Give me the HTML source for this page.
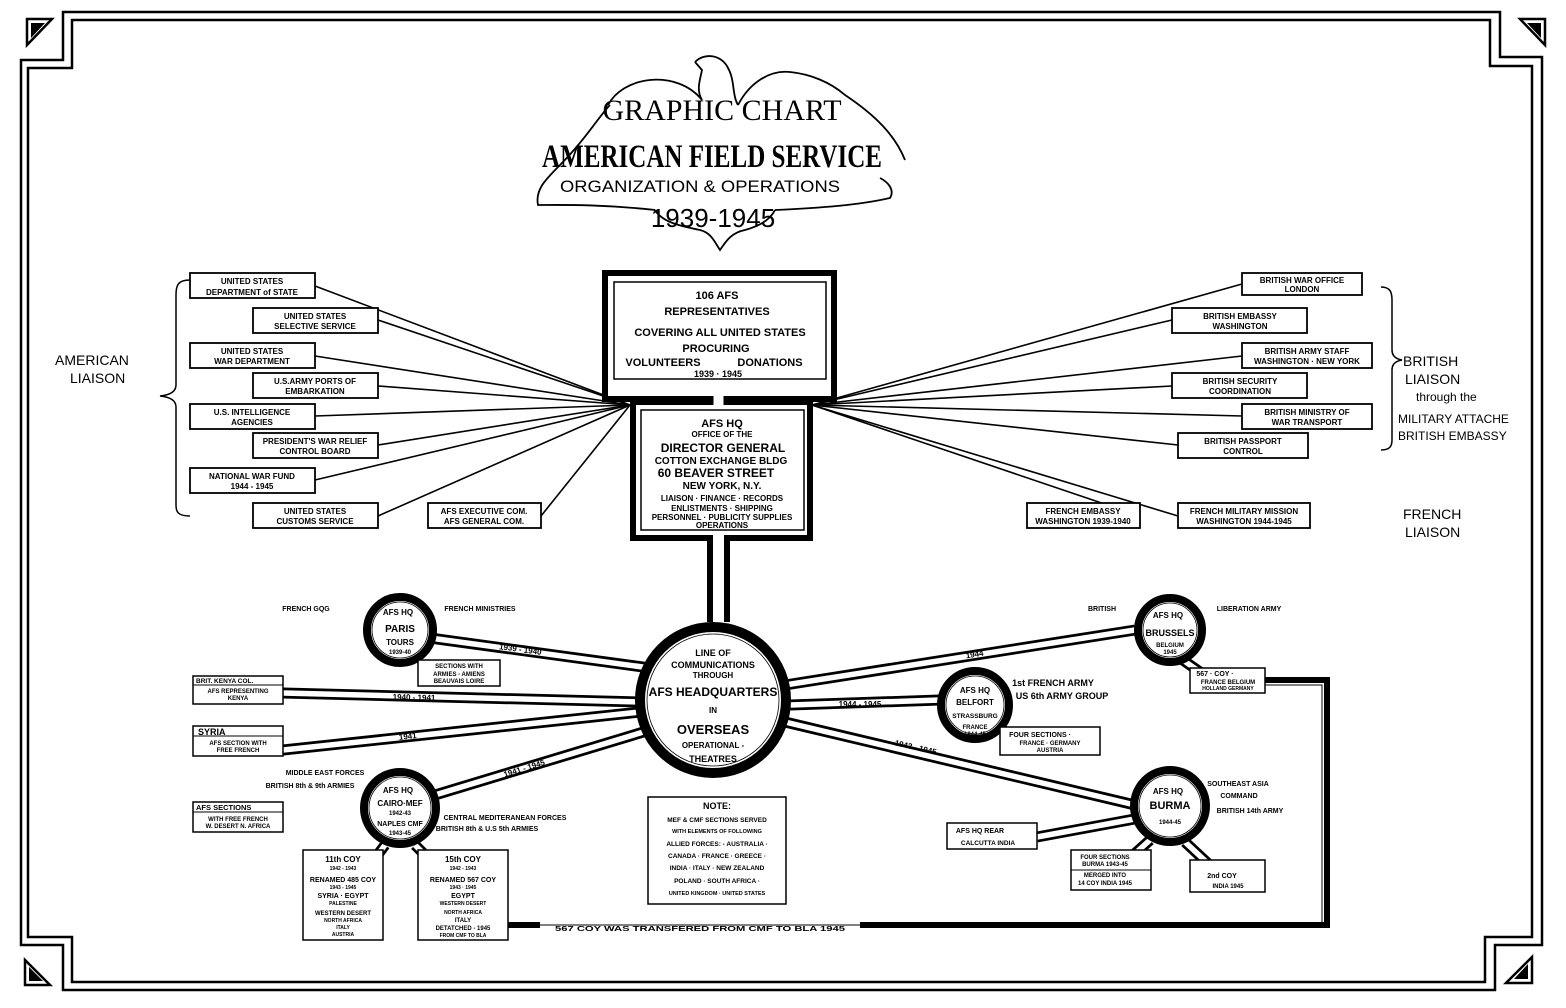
<!DOCTYPE html>
<html><head><meta charset="utf-8"><style>
html,body{margin:0;padding:0;background:#fff}
svg{display:block}
text{font-family:"Liberation Sans",sans-serif;fill:#000;font-weight:bold;text-anchor:middle}
.s{font-size:8px}
.m{font-size:11px}
.l{font-size:14px;font-weight:normal}
.st{text-anchor:start}
</style></head><body>
<svg width="1566" height="1008" viewBox="0 0 1566 1008" xmlns="http://www.w3.org/2000/svg">
<rect width="1566" height="1008" fill="#fff"/>
<g fill="none" stroke="#000" stroke-width="2.5">
<path d="M63,12 H1500 V57 H1542 V945 H1495 V990 H63 V945 H21 V60 H63 Z"/>
<path d="M72,20 H1490 V66 H1532 V937 H1485 V982 H72 V937 H28 V68 H72 Z"/>
</g>
<path d="M27,19 H52 L27,45 Z" fill="#fff" stroke="#000" stroke-width="2.5"/><path d="M31,23 H45 L31,38 Z"/>
<path d="M1520,19 H1545 V45 Z" fill="#fff" stroke="#000" stroke-width="2.5"/><path d="M1527,23 H1541 V38 Z"/>
<path d="M25,960 L50,985 H25 Z" fill="#fff" stroke="#000" stroke-width="2.5"/><path d="M29,967 L43,981 H29 Z"/>
<path d="M1532,957 V983 H1506 Z" fill="#fff" stroke="#000" stroke-width="2.5"/><path d="M1528,964 V979 H1514 Z"/>

<!-- Title eagle & banner -->
<g fill="none" stroke="#000" stroke-width="1.8">
<path d="M695,62 C705,52 722,55 728,68 C735,80 732,95 738,105 M695,62 L702,70 C700,80 696,90 702,100"/>
<path d="M702,100 C690,85 670,78 650,80 C630,82 615,92 608,105 M610,105 C600,115 585,140 560,165"/>
<path d="M738,105 C750,82 770,70 790,72 C810,74 830,82 845,95 C875,115 895,135 905,160"/>
<path d="M560,165 C545,180 535,190 538,205 C560,205 600,204 655,210"/>
<path d="M775,210 C820,208 860,205 890,198 C895,190 888,182 880,178"/>
<path d="M655,210 C662,222 680,226 700,230 C712,233 715,243 720,250 C725,243 730,233 745,230 C760,226 770,220 775,210"/>
</g>
<text x="722" y="120" style="font-size:30px;font-weight:normal;font-family:'Liberation Serif',serif">GRAPHIC CHART</text>
<text x="712" y="167" style="font-size:33px;font-weight:bold;font-family:'Liberation Serif',serif" textLength="340" lengthAdjust="spacingAndGlyphs">AMERICAN FIELD SERVICE</text>
<text x="700" y="192" style="font-size:17px;font-weight:normal" textLength="280" lengthAdjust="spacingAndGlyphs">ORGANIZATION &amp; OPERATIONS</text>
<text x="713" y="227" style="font-size:26px;font-weight:normal">1939-1945</text>

<g stroke="#000" stroke-width="1.6">
<line x1="315" y1="286" x2="630" y2="405"/>
<line x1="378" y1="320" x2="630" y2="405"/>
<line x1="315" y1="356" x2="630" y2="405"/>
<line x1="378" y1="386" x2="630" y2="405"/>
<line x1="315" y1="416" x2="630" y2="405"/>
<line x1="378" y1="445" x2="630" y2="405"/>
<line x1="315" y1="480" x2="630" y2="405"/>
<line x1="378" y1="516" x2="630" y2="405"/>
<line x1="541" y1="516" x2="630" y2="405"/>
<line x1="1242" y1="284" x2="812" y2="405"/>
<line x1="1172" y1="320" x2="812" y2="405"/>
<line x1="1242" y1="356" x2="812" y2="405"/>
<line x1="1172" y1="386" x2="812" y2="405"/>
<line x1="1242" y1="416" x2="812" y2="405"/>
<line x1="1178" y1="445" x2="812" y2="405"/>
<line x1="1178" y1="516" x2="812" y2="405"/>
<line x1="1140" y1="516" x2="812" y2="405"/>
</g>

<g fill="#fff" stroke="#000" stroke-width="1.8">
<rect x="190" y="273" width="125" height="25"/><rect x="253" y="308" width="125" height="25"/>
<rect x="190" y="343" width="125" height="25"/><rect x="253" y="373" width="125" height="25"/>
<rect x="190" y="404" width="125" height="25"/><rect x="253" y="433" width="125" height="25"/>
<rect x="190" y="468" width="125" height="25"/><rect x="253" y="503" width="125" height="25"/>
<rect x="428" y="503" width="113" height="25"/>
<rect x="1242" y="273" width="120" height="22"/><rect x="1172" y="308" width="135" height="25"/>
<rect x="1242" y="343" width="130" height="25"/><rect x="1172" y="373" width="135" height="25"/>
<rect x="1242" y="404" width="130" height="25"/><rect x="1178" y="433" width="130" height="25"/>
<rect x="1178" y="503" width="132" height="25"/><rect x="1027" y="503" width="113" height="25"/>
</g>
<g class="s">
<text x="252" y="284" class="s">UNITED STATES</text><text x="252" y="295" class="s">DEPARTMENT of STATE</text>
<text x="315" y="319" class="s">UNITED STATES</text><text x="315" y="329" class="s">SELECTIVE SERVICE</text>
<text x="252" y="354" class="s">UNITED STATES</text><text x="252" y="364" class="s">WAR DEPARTMENT</text>
<text x="315" y="384" class="s">U.S.ARMY PORTS OF</text><text x="315" y="394" class="s">EMBARKATION</text>
<text x="252" y="415" class="s">U.S. INTELLIGENCE</text><text x="252" y="425" class="s">AGENCIES</text>
<text x="315" y="444" class="s">PRESIDENT'S WAR RELIEF</text><text x="315" y="454" class="s">CONTROL BOARD</text>
<text x="252" y="479" class="s">NATIONAL WAR FUND</text><text x="252" y="489" class="s">1944 - 1945</text>
<text x="315" y="514" class="s">UNITED STATES</text><text x="315" y="524" class="s">CUSTOMS SERVICE</text>
<text x="484" y="514" class="s">AFS EXECUTIVE COM.</text><text x="484" y="524" class="s">AFS GENERAL COM.</text>
<text x="1302" y="283" class="s">BRITISH WAR OFFICE</text><text x="1302" y="292" class="s">LONDON</text>
<text x="1240" y="319" class="s">BRITISH EMBASSY</text><text x="1240" y="329" class="s">WASHINGTON</text>
<text x="1307" y="354" class="s">BRITISH ARMY STAFF</text><text x="1307" y="364" class="s">WASHINGTON · NEW YORK</text>
<text x="1240" y="384" class="s">BRITISH SECURITY</text><text x="1240" y="394" class="s">COORDINATION</text>
<text x="1307" y="415" class="s">BRITISH MINISTRY OF</text><text x="1307" y="425" class="s">WAR TRANSPORT</text>
<text x="1243" y="444" class="s">BRITISH PASSPORT</text><text x="1243" y="454" class="s">CONTROL</text>
<text x="1244" y="514" class="s">FRENCH MILITARY MISSION</text><text x="1244" y="524" class="s">WASHINGTON 1944-1945</text>
<text x="1083" y="514" class="s">FRENCH EMBASSY</text><text x="1083" y="524" class="s">WASHINGTON 1939-1940</text>
</g>

<path d="M190,280 C178,280 176,285 176,295 V385 C176,392 170,395 160,396 C170,397 176,400 176,407 V505 C176,512 178,516 190,516" fill="none" stroke="#000" stroke-width="1.5"/>
<path d="M1381,287 C1390,287 1392,292 1392,300 V350 C1392,356 1396,359 1402,360 C1396,361 1392,364 1392,370 V440 C1392,446 1390,450 1381,450" fill="none" stroke="#000" stroke-width="1.5"/>
<text x="55" y="365" class="l st">AMERICAN</text><text x="70" y="383" class="l st">LIAISON</text>
<text x="1403" y="366" class="l st">BRITISH</text><text x="1405" y="384" class="l st">LIAISON</text>
<text x="1416" y="401" class="l st" style="font-size:12px">through the</text>
<text x="1398" y="423" class="l st" style="font-size:12px">MILITARY ATTACHE</text>
<text x="1398" y="440" class="l st" style="font-size:12px">BRITISH EMBASSY</text>
<text x="1403" y="519" class="l st">FRENCH</text><text x="1405" y="537" class="l st">LIAISON</text>

<!-- central boxes -->
<g fill="none" stroke="#000" stroke-width="6">
<rect x="605" y="273" width="229" height="126"/>
<rect x="633" y="402" width="177" height="136"/>
<line x1="710" y1="538" x2="710" y2="622"/>
<line x1="727" y1="538" x2="727" y2="622"/>
</g>
<rect x="713" y="395" width="11" height="12" fill="#fff"/>
<rect x="713" y="533" width="11" height="10" fill="#fff"/>
<g stroke="#000" stroke-width="5"><line x1="711" y1="396" x2="711" y2="405"/><line x1="726" y1="396" x2="726" y2="405"/></g>
<rect x="614" y="282" width="212" height="97" fill="#fff" stroke="#000" stroke-width="1.5"/>
<rect x="641" y="410" width="163" height="120" fill="#fff" stroke="#000" stroke-width="1.5"/>
<g class="m">
<text x="717" y="299">106  AFS</text><text x="717" y="315">REPRESENTATIVES</text>
<text x="720" y="336">COVERING ALL UNITED STATES</text><text x="716" y="352">PROCURING</text>
<text x="663" y="366">VOLUNTEERS</text><text x="770" y="366">DONATIONS</text>
<text x="718" y="377" style="font-size:9px">1939 · 1945</text>
<text x="722" y="427">AFS HQ</text><text x="722" y="437" class="s">OFFICE OF THE</text>
<text x="723" y="452" style="font-size:12px">DIRECTOR GENERAL</text>
<text x="721" y="464" style="font-size:10px">COTTON EXCHANGE BLDG</text>
<text x="716" y="477" style="font-size:12px">60 BEAVER STREET</text>
<text x="722" y="489" style="font-size:10px">NEW YORK, N.Y.</text>
<text x="722" y="501" class="s">LIAISON · FINANCE · RECORDS</text>
<text x="722" y="511" class="s">ENLISTMENTS · SHIPPING</text>
<text x="722" y="520" class="s">PERSONNEL · PUBLICITY SUPPLIES</text>
<text x="722" y="528" class="s">OPERATIONS</text>
</g>

<g stroke="#000" stroke-width="11" stroke-linecap="butt">
<line x1="430" y1="638" x2="650" y2="668"/>
<line x1="283" y1="693" x2="640" y2="702"/>
<line x1="283" y1="750" x2="640" y2="712"/>
<line x1="435" y1="795" x2="650" y2="730"/>
<line x1="785" y1="685" x2="1135" y2="630"/>
<line x1="790" y1="705" x2="940" y2="700"/>
<line x1="785" y1="722" x2="1135" y2="805"/>
<line x1="1037" y1="837" x2="1140" y2="818"/>
<line x1="385" y1="845" x2="370" y2="865"/>
<line x1="415" y1="845" x2="435" y2="865"/>
<line x1="1150" y1="840" x2="1130" y2="858"/>
<line x1="1185" y1="842" x2="1215" y2="870"/>
<line x1="1180" y1="658" x2="1200" y2="672"/>
</g>
<g stroke="#fff" stroke-width="5.5">
<line x1="430" y1="638" x2="650" y2="668"/>
<line x1="283" y1="693" x2="640" y2="702"/>
<line x1="283" y1="750" x2="640" y2="712"/>
<line x1="435" y1="795" x2="650" y2="730"/>
<line x1="785" y1="685" x2="1135" y2="630"/>
<line x1="790" y1="705" x2="940" y2="700"/>
<line x1="785" y1="722" x2="1135" y2="805"/>
<line x1="1037" y1="837" x2="1140" y2="818"/>
<line x1="385" y1="845" x2="370" y2="865"/>
<line x1="415" y1="845" x2="435" y2="865"/>
<line x1="1150" y1="840" x2="1130" y2="858"/>
<line x1="1185" y1="842" x2="1215" y2="870"/>
<line x1="1180" y1="658" x2="1200" y2="672"/>
</g>
<g class="s">
<text x="520" y="652" transform="rotate(7.8 520 652)">1939 - 1940</text>
<text x="414" y="700" transform="rotate(1.4 414 700)">1940 - 1941</text>
<text x="408" y="739" transform="rotate(-6 408 739)">1941</text>
<text x="525" y="771" transform="rotate(-17 525 771)">1941 - 1945</text>
<text x="975" y="657" transform="rotate(-9 975 657)">1944</text>
<text x="860" y="707">1944 - 1945</text>
<text x="915" y="750" transform="rotate(13 915 750)">1943 - 1945</text>
</g>

<g fill="#fff" stroke="#000">
<circle cx="713" cy="700" r="73" stroke-width="10"/>
<circle cx="400" cy="630" r="33" stroke-width="8"/>
<circle cx="400" cy="808" r="36" stroke-width="8"/>
<circle cx="1170" cy="630" r="32" stroke-width="8"/>
<circle cx="975" cy="705" r="34" stroke-width="8"/>
<circle cx="1170" cy="806" r="36" stroke-width="8"/>
</g>
<g fill="none" stroke="#000" stroke-width="0.8">
<circle cx="713" cy="700" r="66"/><circle cx="400" cy="630" r="28"/><circle cx="400" cy="808" r="31"/>
<circle cx="1170" cy="630" r="27"/><circle cx="975" cy="705" r="29"/><circle cx="1170" cy="806" r="31"/>
</g>
<g>
<text x="713" y="656" class="s" style="font-size:9px">LINE OF</text>
<text x="713" y="668" class="s" style="font-size:9px">COMMUNICATIONS</text>
<text x="713" y="678" class="s">THROUGH</text>
<text x="713" y="696" style="font-size:12px">AFS HEADQUARTERS</text>
<text x="713" y="713" class="s">IN</text>
<text x="713" y="734" style="font-size:13px">OVERSEAS</text>
<text x="713" y="748" class="s">OPERATIONAL -</text>
<text x="713" y="762" class="s" style="font-size:9px">THEATRES</text>
<text x="398" y="615" class="s">AFS HQ</text><text x="400" y="632" style="font-size:10px">PARIS</text>
<text x="400" y="645" class="s">TOURS</text><text x="400" y="654" style="font-size:6px">1939-40</text>
<text x="398" y="793" class="s">AFS HQ</text><text x="400" y="806" class="s">CAIRO·MEF</text>
<text x="400" y="815" style="font-size:6px">1942-43</text><text x="400" y="826" style="font-size:7px">NAPLES CMF</text>
<text x="400" y="835" style="font-size:6px">1943-45</text>
<text x="1168" y="618" class="s">AFS HQ</text><text x="1170" y="636" style="font-size:9px">BRUSSELS</text>
<text x="1170" y="647" style="font-size:6px">BELGIUM</text><text x="1170" y="654" style="font-size:6px">1945</text>
<text x="975" y="693" class="s">AFS HQ</text><text x="975" y="705" class="s">BELFORT</text>
<text x="975" y="718" style="font-size:6.5px">STRASSBURG</text>
<text x="975" y="729" style="font-size:6px">FRANCE</text><text x="975" y="736" style="font-size:6px">1944-45</text>
<text x="1168" y="794" class="s">AFS HQ</text><text x="1170" y="809" style="font-size:11px">BURMA</text>
<text x="1170" y="824" style="font-size:6px">1944-45</text>
</g>

<g fill="#fff" stroke="#000" stroke-width="1.5">
<rect x="418" y="660" width="82" height="26"/>
<rect x="193" y="676" width="90" height="28"/>
<rect x="193" y="726" width="90" height="30"/>
<rect x="193" y="802" width="90" height="30"/>
<rect x="303" y="850" width="80" height="90"/>
<rect x="418" y="850" width="90" height="90"/>
<rect x="648" y="797" width="138" height="107"/>
<rect x="1190" y="668" width="75" height="25"/>
<rect x="1000" y="727" width="100" height="28"/>
<rect x="947" y="823" width="90" height="26"/>
<rect x="1071" y="850" width="80" height="40"/>
<rect x="1190" y="860" width="75" height="32"/>
</g>
<line x1="193" y1="685" x2="283" y2="685" stroke="#000" stroke-width="1"/>
<line x1="193" y1="736" x2="283" y2="736" stroke="#000" stroke-width="1"/>
<line x1="193" y1="812" x2="283" y2="812" stroke="#000" stroke-width="1"/>
<g style="font-size:6px">
<text x="459" y="668" style="font-size:6px">SECTIONS WITH</text><text x="459" y="676" style="font-size:6px">ARMIES - AMIENS</text><text x="459" y="683" style="font-size:6px">BEAUVAIS  LOIRE</text>
<text x="196" y="683" class="st" style="font-size:6.5px">BRIT. KENYA COL.</text><text x="238" y="693" style="font-size:6px">AFS REPRESENTING</text><text x="238" y="700" style="font-size:6px">KENYA</text>
<text x="198" y="735" class="st" style="font-size:9px">SYRIA</text><text x="238" y="745" style="font-size:6px">AFS SECTION WITH</text><text x="238" y="752" style="font-size:6px">FREE FRENCH</text>
<text x="196" y="810" class="st" style="font-size:7.5px">AFS SECTIONS</text><text x="238" y="821" style="font-size:6px">WITH FREE FRENCH</text><text x="238" y="828" style="font-size:6px">W. DESERT  N. AFRICA</text>
<text x="343" y="862" style="font-size:8px">11th COY</text><text x="343" y="870" style="font-size:5px">1942 - 1943</text>
<text x="343" y="882" style="font-size:7px">RENAMED 485 COY</text><text x="343" y="889" style="font-size:5px">1943 - 1945</text>
<text x="343" y="898" style="font-size:7px">SYRIA · EGYPT</text><text x="343" y="905" style="font-size:5px">PALESTINE</text>
<text x="343" y="915" style="font-size:6px">WESTERN DESERT</text><text x="343" y="922" style="font-size:5px">NORTH AFRICA</text>
<text x="343" y="929" style="font-size:5px">ITALY</text><text x="343" y="936" style="font-size:5px">AUSTRIA</text>
<text x="463" y="862" style="font-size:8px">15th COY</text><text x="463" y="870" style="font-size:5px">1942 - 1943</text>
<text x="463" y="882" style="font-size:7px">RENAMED 567 COY</text><text x="463" y="889" style="font-size:5px">1943 · 1945</text>
<text x="463" y="898" style="font-size:7px">EGYPT</text><text x="463" y="905" style="font-size:5px">WESTERN DESERT</text>
<text x="463" y="914" style="font-size:5px">NORTH AFRICA</text><text x="463" y="922" style="font-size:6px">ITALY</text>
<text x="463" y="930" style="font-size:6px">DETATCHED - 1945</text><text x="463" y="937" style="font-size:5px">FROM CMF TO BLA</text>
<text x="717" y="809" style="font-size:9px">NOTE:</text>
<text x="717" y="822" style="font-size:6.5px">MEF &amp; CMF SECTIONS SERVED</text>
<text x="717" y="833" style="font-size:5.5px">WITH ELEMENTS OF FOLLOWING</text>
<text x="717" y="846" style="font-size:6.5px">ALLIED FORCES: - AUSTRALIA ·</text>
<text x="717" y="858" style="font-size:6.5px">CANADA · FRANCE · GREECE ·</text>
<text x="717" y="870" style="font-size:6.5px">INDIA · ITALY · NEW ZEALAND</text>
<text x="717" y="883" style="font-size:6.5px">POLAND · SOUTH AFRICA ·</text>
<text x="717" y="895" style="font-size:5.5px">UNITED KINGDOM · UNITED STATES</text>
<text x="1215" y="676" style="font-size:7px">567 · COY ·</text><text x="1228" y="684" style="font-size:6px">FRANCE BELGIUM</text><text x="1228" y="690" style="font-size:5px">HOLLAND GERMANY</text>
<text x="1040" y="737" style="font-size:7px">FOUR SECTIONS ·</text><text x="1050" y="745" style="font-size:6px">FRANCE · GERMANY</text><text x="1050" y="752" style="font-size:6px">AUSTRIA</text>
<text x="980" y="833" style="font-size:7px">AFS HQ REAR</text><text x="988" y="845" style="font-size:6.5px">CALCUTTA INDIA</text>
<text x="1105" y="859" style="font-size:6px">FOUR SECTIONS</text><text x="1105" y="866" style="font-size:6px">BURMA 1943-45</text>
<text x="1105" y="877" style="font-size:6px">MERGED INTO</text><text x="1105" y="885" style="font-size:6px">14 COY INDIA 1945</text>
<text x="1222" y="878" style="font-size:7px">2nd COY</text><text x="1228" y="888" style="font-size:6px">INDIA 1945</text>
</g>
<line x1="1071" y1="870" x2="1151" y2="870" stroke="#000" stroke-width="1"/>

<g fill="none" stroke="#000">
<path d="M508,925 H1327 V680 H1265" stroke-width="6"/>
<path d="M508,925 H1322 V685 H1265" stroke-width="1"/>
</g>
<rect x="540" y="922" width="320" height="6" fill="#fff"/>
<line x1="520" y1="925" x2="860" y2="925" stroke="#000" stroke-width="1"/>
<text x="700" y="931" style="font-size:7px" textLength="290" lengthAdjust="spacingAndGlyphs">567 COY WAS TRANSFERED FROM CMF TO BLA 1945</text>

<g style="font-size:7px">
<text x="306" y="611">FRENCH GQG</text>
<text x="480" y="611">FRENCH MINISTRIES</text>
<text x="325" y="775">MIDDLE EAST FORCES</text>
<text x="310" y="788">BRITISH 8th &amp; 9th ARMIES</text>
<text x="505" y="820">CENTRAL MEDITERANEAN FORCES</text>
<text x="487" y="831">BRITISH 8th &amp; U.S 5th ARMIES</text>
<text x="1102" y="611">BRITISH</text>
<text x="1249" y="611">LIBERATION ARMY</text>
<text x="1053" y="686" style="font-size:9px">1st FRENCH ARMY</text>
<text x="1062" y="699" style="font-size:9px">US 6th ARMY GROUP</text>
<text x="1238" y="786">SOUTHEAST ASIA</text>
<text x="1239" y="798">COMMAND</text>
<text x="1250" y="813">BRITISH 14th ARMY</text>
</g>
</svg>
</body></html>
